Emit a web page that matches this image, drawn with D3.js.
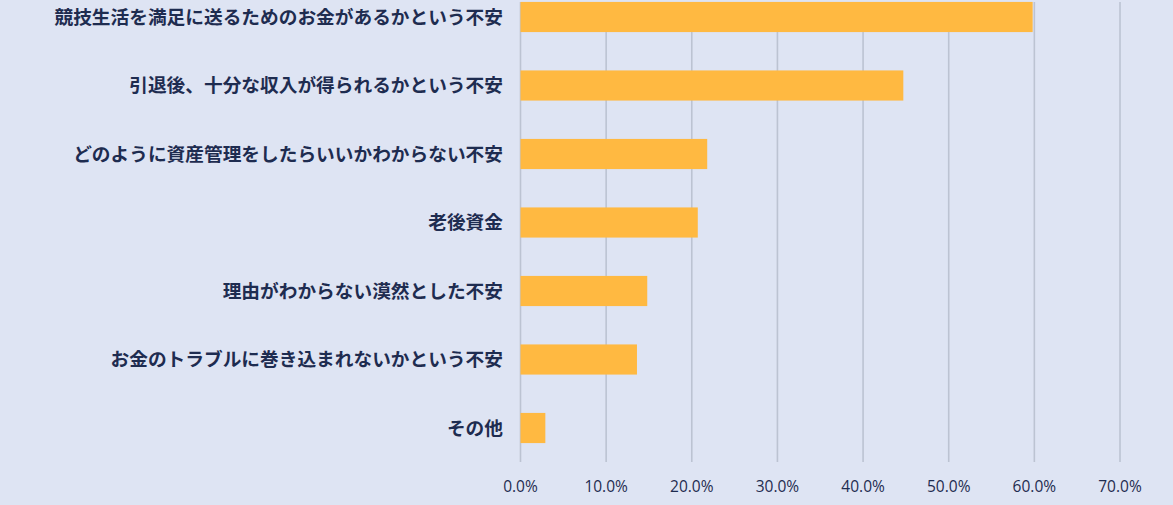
<!DOCTYPE html>
<html><head><meta charset="utf-8">
<script src="https://cdn.jsdelivr.net/npm/d3@7"></script>
<style>html,body{margin:0;padding:0;background:#dee4f3;}svg{display:block;}</style>
</head><body>
<svg id="c" width="1173" height="505"></svg>
<script>
const categories = ["競技生活を満足に送るためのお金があるかという不安","引退後、十分な収入が得られるかという不安","どのように資産管理をしたらいいかわからない不安","老後資金","理由がわからない漠然とした不安","お金のトラブルに巻き込まれないかという不安","その他"];
const values = [59.8, 44.7, 21.8, 20.7, 14.8, 13.6, 2.9];
const tickValues = [0,10,20,30,40,50,60,70];

const svg = d3.select("#c");
const x = d3.scaleLinear().domain([0,70]).range([520.5,1120]);
const y = d3.scaleBand().domain(categories).range([-17.25,462.25]).paddingInner(0.56).paddingOuter(0.28);

svg.append("rect").attr("width",1173).attr("height",505).attr("fill","#dee4f3");

svg.append("g").selectAll("line").data(tickValues).join("line")
  .attr("x1",d=>x(d)).attr("x2",d=>x(d)).attr("y1",2).attr("y2",462)
  .attr("stroke","#bcc3d2").attr("stroke-width",1.6);

svg.append("g").selectAll("rect").data(values).join("rect")
  .attr("x",x(0)).attr("y",(d,i)=>y(categories[i])).attr("height",y.bandwidth())
  .attr("width",d=>x(d)-x(0)).attr("fill","#ffb941");

svg.append("g").selectAll("text").data(categories).join("text")
  .attr("x",503).attr("y",d=>y(d)+y.bandwidth()/2).attr("dy","0.36em")
  .attr("text-anchor","end").attr("fill","#1e2c50")
  .attr("font-family","'Noto Sans CJK JP','Noto Sans',sans-serif").attr("font-weight","bold").attr("font-size","18.7px")
  .text(d=>d);

svg.append("g").selectAll("text").data(tickValues).join("text")
  .attr("x",d=>x(d)).attr("y",492).attr("text-anchor","middle").attr("fill","#1e2c50")
  .attr("font-family","'Open Sans','Liberation Sans',sans-serif").attr("font-size","15.5px")
  .text(d=>d3.format(".1f")(d)+"%");
</script>
</body></html>
